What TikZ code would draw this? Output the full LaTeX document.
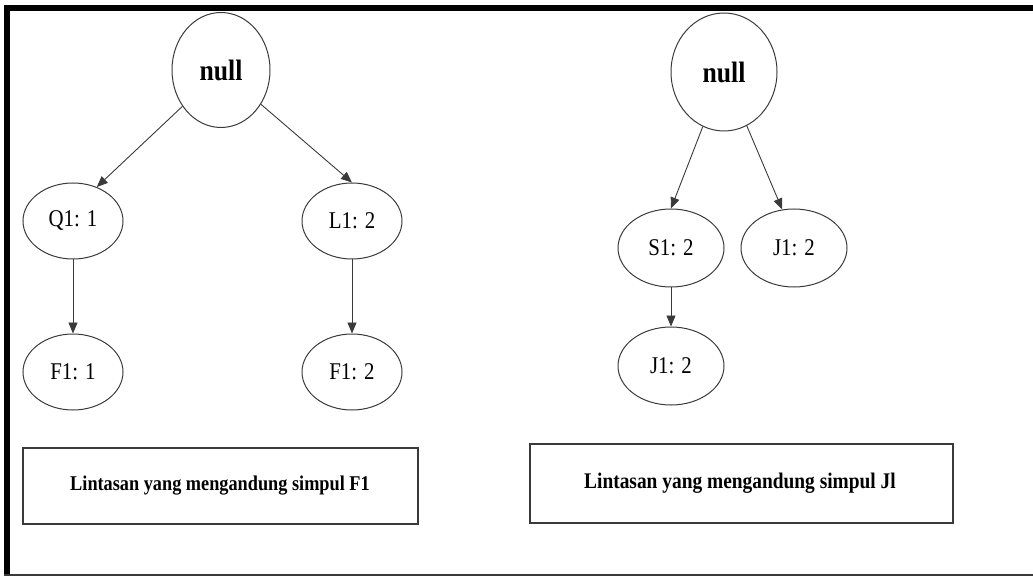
\documentclass[tikz,border=0pt]{standalone}
\usepackage{fontspec}
\setmainfont{Liberation Serif}
\newfontfamily\condfont[FakeStretch=0.87]{Liberation Serif}
\usetikzlibrary{arrows.meta,shapes.geometric}
\definecolor{linegray}{HTML}{3A3A3A}
\tikzset{
  x=1pt,y=1pt,
  oval/.style={ellipse,draw=linegray,line width=1pt,inner sep=0pt,
    font=\condfont\fontsize{24}{28}\selectfont},
  rootoval/.style={oval,font=\condfont\fontsize{29.5}{34}\selectfont\bfseries},
  capbox/.style={rectangle,draw=linegray,line width=1.1pt,inner sep=0pt},
  captext/.style={font=\condfont\fontsize{#1}{24}\selectfont\bfseries},
  arr/.style={draw=linegray,line width=0.9pt,-{Triangle[length=11pt,width=9pt]}},
}
\begin{document}
\begin{tikzpicture}
\useasboundingbox (0,0) rectangle (1033,-577);
% frame
\fill[black] (4,-5) rectangle (1033,-11);
\fill[black] (4,-5) rectangle (10,-576);
\draw[linegray,line width=1.5pt] (4,-575) -- (1033,-575);

% left tree
\node[rootoval,minimum width=98pt,minimum height=115pt] (nullL) at (221,-70) {null};
\node[oval,minimum width=100pt,minimum height=76pt] (Q1) at (73,-221) {Q1: 1};
\node[oval,minimum width=100pt,minimum height=76pt] (L1) at (352,-221) {L1: 2};
\node[oval,minimum width=100pt,minimum height=76pt] (F1a) at (73,-372) {F1: 1};
\node[oval,minimum width=100pt,minimum height=76pt] (F1b) at (352,-372) {F1: 2};
\draw[arr] (nullL) -- (Q1.55);
\draw[arr] (nullL) -- (L1.north);
\draw[arr] (Q1) -- (F1a);
\draw[arr] (L1) -- (F1b);
\node[capbox,minimum width=395pt,minimum height=76pt] (boxL) at (220.5,-486) {};
\node[captext=21] (txtL) at (220,-486) {Lintasan yang mengandung simpul F1};

% right tree
\node[rootoval,minimum width=106pt,minimum height=118pt] (nullR) at (724,-72) {null};
\node[oval,minimum width=106pt,minimum height=78pt] (S1) at (671,-248) {S1: 2};
\node[oval,minimum width=106pt,minimum height=78pt] (J1a) at (794,-248) {J1: 2};
\node[oval,minimum width=106pt,minimum height=78pt] (J1b) at (671,-366) {J1: 2};
\draw[arr] (nullR) -- (S1.north);
\draw[arr] (nullR) -- (J1a.107);
\draw[arr] (S1) -- (J1b);
\node[capbox,minimum width=423pt,minimum height=79pt] (boxR) at (741.5,-483.5) {};
\node[captext=22.3] (txtR) at (740,-483) {Lintasan yang mengandung simpul Jl};
\end{tikzpicture}
\end{document}
